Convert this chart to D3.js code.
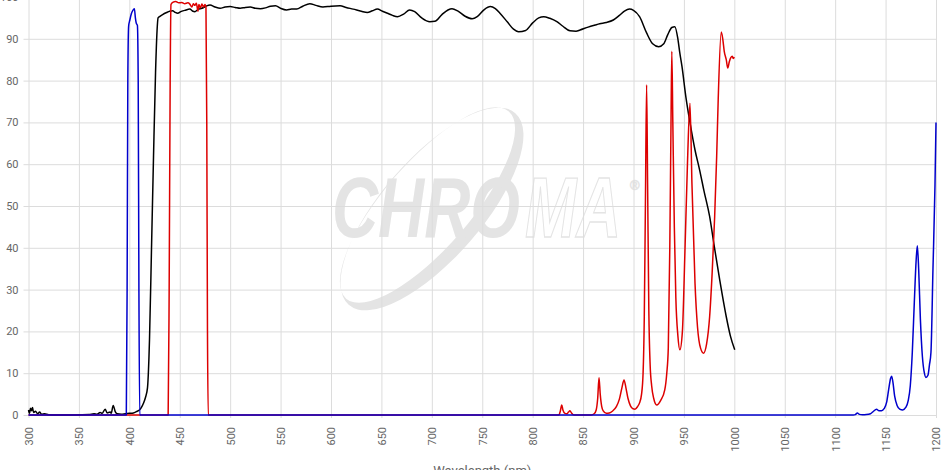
<!DOCTYPE html>
<html>
<head>
<meta charset="utf-8">
<script src="https://cdn.jsdelivr.net/npm/d3@7"></script>
<style>
  html, body { margin: 0; padding: 0; background: #fff; }
  svg { display: block; }
  .tick text { font-family: Roboto, "Liberation Sans", Arial, sans-serif; font-size: 11px; fill: #666; }
</style>
</head>
<body>
<svg id="chart" width="951" height="470"></svg>
<script>
// ---- data ----
const xTicks = [300,350,400,450,500,550,600,650,700,750,800,850,900,950,1000,1050,1100,1150,1200];
const yTicks = [0,10,20,30,40,50,60,70,80,90,100];
const xTitle = "Wavelength (nm)";

const blackSeries = [[300,1.2],[301,0.4],[302,1.6],[303,1.0],[304,1.8],[305,0.6],[307,0.9],[309,0.3],[311,0.7],[313,0.2],[316,0.3],[320,0.05],[330,0],[340,0],[350,0.05],[360,0.1],[365,0.3],[368,0.2],[371,0.6],[373,0.4],[376,1.4],[378,0.5],[381,0.7],[382,0.4],[384,2.3],[386,0.8],[388,0.3],[392,0.2],[396,0.3],[400,0.4],[404,0.5],[407,0.8],[410,1.2],[412,1.8],[414,2.8],[416,4.2],[418,6.5],[420,18],[422,40],[424,62],[426,82],[427.5,92],[428.5,95],[430,95.3],[433,95.8],[437,96.3],[440,96.6],[443,96.7],[445,96.4],[448,96.1],[451,96.5],[455,96.8],[460,97.1],[463,96.6],[465,96.5],[468,97.0],[472,97.3],[476,97.8],[480,98.1],[485,97.6],[490,97.3],[495,97.6],[500,97.7],[505,97.5],[510,97.3],[515,97.5],[520,97.6],[525,97.3],[530,97.2],[535,97.4],[540,97.8],[545,97.9],[550,97.3],[556,96.9],[561,97.1],[566,97.1],[572,97.8],[579,98.4],[585,98.0],[592,97.6],[600,97.8],[609,97.9],[615,97.5],[622,97.1],[630,96.6],[636,96.3],[641,96.7],[646,97.1],[651,96.6],[656,96.1],[661,95.6],[666,95.3],[672,95.9],[678,96.9],[683,96.5],[690,95.0],[698,94.1],[703,94.2],[710,95.8],[716,96.9],[720,97.2],[726,96.6],[733,95.4],[740,94.8],[745,95.3],[752,97.0],[758,97.7],[763,97.2],[768,96.0],[775,94.0],[781,92.3],[786,91.7],[793,92.0],[800,93.8],[806,95.0],[811,95.3],[817,94.9],[824,94.1],[830,93.0],[837,91.9],[843,91.8],[847,92.1],[855,92.8],[862,93.3],[866.5,93.6],[873,93.9],[880,94.5],[886,95.6],[891,96.6],[896,97.1],[900,96.8],[906,95.3],[913,91.4],[919,88.8],[925,88.1],[930,88.8],[934,91],[938,92.7],[941,92.9],[944,90],[946,86.5],[948,83.5],[952,76],[956,70],[961,63.4],[965.6,58.6],[970,53.5],[975.5,47.5],[980,40.5],[985.5,32.3],[992,23.5],[996,19],[1000.4,15.6]];

const redSeries = [[300,0],[438.5,0],[439.5,30],[440.5,80],[441.3,98.2],[443,98.7],[446,98.9],[449,98.6],[452,98.7],[455,98.4],[458,98.6],[460,98.3],[462,97.6],[463.5,98.4],[465,98.0],[466.5,98.5],[468,96.6],[469,98.2],[470.5,97.4],[472,98.3],[473.5,97.6],[475,98.2],[476,97.5],[476.8,70],[477.5,20],[478.3,0],[826,0],[827.5,1],[828.8,2.4],[830,1.2],[832,0.4],[834,0.3],[835.5,0.7],[837,1.0],[838.5,0.5],[841,0],[858,0],[861,0.3],[863,1.2],[864.5,4],[865.8,8.9],[867,5],[868.5,2],[870,1],[873,0.4],[876,0.5],[879,0.9],[883,2],[886,3.8],[888.5,6.5],[890.6,8.4],[892.5,6.5],[894.5,4],[897,2.2],[899.5,1.5],[901.5,1.4],[904,2],[906,2.9],[908,5],[909.5,10],[910.7,23.5],[911.8,50],[913,79],[914,55],[915.2,25],[916.5,12],[918,7],[920,4],[923,2.4],[927,3.5],[931,6],[933,10],[934.5,16],[936,40],[937.2,70],[938,87],[939,70],[940.5,45],[942,28],[944,19],[946,15.6],[948.5,20],[951,39],[953.5,60],[956,74.6],[958,55],[961,31.5],[963.5,21],[966.5,16],[969.5,14.8],[972.5,17],[975.5,23.5],[978,34],[980.5,47.5],[982.5,62],[984,75.4],[987,91.6],[988.5,90],[990,87],[992,85],[993.5,83],[995,84.5],[996.5,85.5],[998,85.8],[999,85.3],[1000,85.6]];

const blueSeries = [[300,0],[397,0],[397.8,30],[398.5,80],[399.3,93],[400.5,94.5],[402,96],[403.5,96.8],[405,97.2],[406,95],[406.8,93.8],[408,93.2],[408.8,80],[409.5,30],[410.3,0],[1118,0],[1120,0.1],[1122,0.45],[1124,0.15],[1127,0.05],[1131,0.1],[1135,0.3],[1138,0.9],[1141,1.4],[1143.5,1.0],[1146,1.0],[1148.5,1.5],[1151,3],[1153,6],[1155,8.8],[1156,9.3],[1157.2,8],[1159,4.5],[1161.5,2.2],[1164,1.4],[1167,1.2],[1170,1.8],[1172.5,3.5],[1174.5,7],[1176.5,15],[1178.5,27],[1180.3,37],[1181.5,40.5],[1182.8,35],[1184.5,23],[1186.5,14],[1188.5,10],[1190,9],[1192,9.5],[1193.5,12],[1195,15],[1197,35],[1199,55],[1200,70]];

const seriesList = [
  { data: blackSeries, color: "#000000" },
  { data: redSeries,   color: "#dd0000" },
  { data: blueSeries,  color: "#0000cc" }
];

// ---- layout ----
const svg = d3.select("#chart");
const x = d3.scaleLinear().domain([300, 1200]).range([28.5, 936]);
const y = d3.scaleLinear().domain([0, 100]).range([415, -3]);
const plotW = x.range()[1] - x.range()[0];
const plotH = y.range()[0] - y.range()[1];

// ---- watermark ----
const wm = svg.append("g").attr("class", "watermark");
const wmColor = "#e4e4e4";
const ring = wm.append("g").attr("transform", "translate(432,209) rotate(-49)");
const ellipsePath = (cx, cy, rx, ry) =>
  `M${cx - rx},${cy} a${rx},${ry} 0 1,0 ${2 * rx},0 a${rx},${ry} 0 1,0 ${-2 * rx},0 Z`;
ring.append("path")
  .attr("d", ellipsePath(0, 0, 127, 50) + ellipsePath(0, -6, 124, 43))
  .attr("fill", wmColor)
  .attr("fill-rule", "evenodd");
const wmText = wm.append("text")
  .attr("font-family", "Liberation Sans, Arial, sans-serif")
  .attr("font-weight", "bold").attr("font-style", "italic")
  .attr("font-size", 86);
wmText.append("tspan")
  .attr("x", 332).attr("y", 237)
  .attr("textLength", 188).attr("lengthAdjust", "spacingAndGlyphs")
  .attr("fill", wmColor)
  .text("CHRO");
wmText.append("tspan")
  .attr("x", 525).attr("y", 237)
  .attr("textLength", 96).attr("lengthAdjust", "spacingAndGlyphs")
  .attr("fill", "none").attr("stroke", wmColor).attr("stroke-width", 1.3)
  .text("MA");
wmText.append("tspan")
  .attr("x", 630).attr("y", 190)
  .attr("font-size", 13).attr("font-weight", "normal").attr("font-style", "normal")
  .attr("fill", "none").attr("stroke", wmColor).attr("stroke-width", 0.8)
  .text("®");

// ---- axes / grid ----
const xAxis = svg.append("g")
  .attr("transform", `translate(0,${y(0)})`)
  .call(d3.axisBottom(x).tickValues(xTicks).tickFormat(d3.format("d"))
    .tickSizeInner(-plotH).tickSizeOuter(0));
xAxis.select(".domain").remove();
xAxis.selectAll(".tick line").attr("stroke", "#dcdcdc").attr("y1", 3);
xAxis.selectAll(".tick text")
  .attr("transform", "rotate(-90)")
  .attr("x", -12).attr("y", 0).attr("dy", "0.35em")
  .attr("text-anchor", "end");

const yAxis = svg.append("g")
  .attr("transform", `translate(${x(300)},0)`)
  .call(d3.axisLeft(y).tickValues(yTicks).tickFormat(d3.format("d"))
    .tickSizeInner(-plotW).tickSizeOuter(0).tickPadding(10));
yAxis.select(".domain").remove();
yAxis.selectAll(".tick line").attr("stroke", "#dcdcdc").attr("x1", -5);

svg.append("text")
  .attr("x", (x.range()[0] + x.range()[1]) / 2)
  .attr("y", 475)
  .attr("text-anchor", "middle")
  .attr("font-family", "Roboto, 'Liberation Sans', Arial, sans-serif")
  .attr("font-size", 13)
  .attr("fill", "#666")
  .text(xTitle);

// ---- series ----
const line = d3.line()
  .x(d => x(d[0]))
  .y(d => y(d[1]))
  .curve(d3.curveMonotoneX);

svg.append("g").selectAll("path")
  .data(seriesList)
  .join("path")
  .attr("d", s => line(s.data))
  .attr("fill", "none")
  .attr("stroke", s => s.color)
  .attr("stroke-width", 1.5)
  .attr("stroke-linejoin", "round");
</script>
</body>
</html>
